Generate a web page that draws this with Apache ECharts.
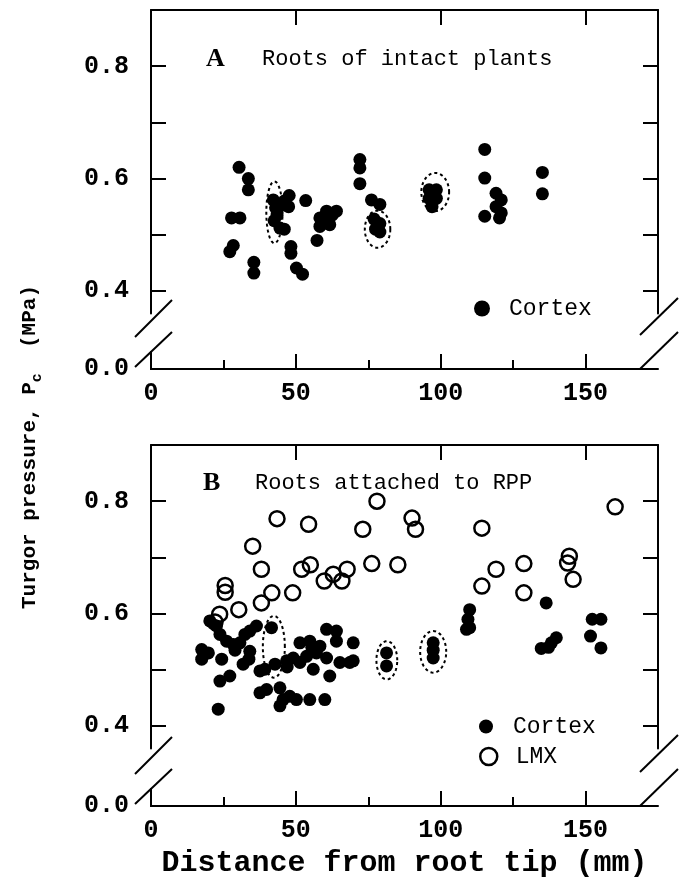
<!DOCTYPE html>
<html>
<head>
<meta charset="utf-8">
<script src="https://cdn.jsdelivr.net/npm/echarts@6/dist/echarts.min.js"></script>
<style>html,body{margin:0;padding:0;background:#fff}#c{width:681px;height:885px}</style>
</head>
<body>
<div id="c"></div>
<script>
// ---------------- data ----------------
const xMajorTicks = [50, 100, 150];
const xMinorTicks = [25, 75, 125];
const xTickLabels = [0, 50, 100, 150];
const yTicks = [0.4, 0.5, 0.6, 0.7, 0.8];
const yTickLabels = [0.4, 0.6, 0.8];
const yBreakLabels = [0.0];

// Panel A: roots of intact plants, cortex [distance mm, Pc MPa]
const cortexA = [
  [27.8,0.530],[30.7,0.530],[30.4,0.620],[33.6,0.600],[33.6,0.580],[28.4,0.481],[27.2,0.470],
  [35.5,0.451],[35.5,0.432],
  [42.2,0.562],[43.0,0.548],[44.5,0.552],[42.5,0.525],[44.5,0.512],[43.5,0.535],[46.0,0.560],
  [47.7,0.570],[47.5,0.550],[46.0,0.510],
  [48.3,0.479],[48.3,0.467],[50.2,0.441],[52.3,0.430],[53.4,0.561],
  [60.6,0.542],[64.0,0.542],[58.3,0.530],[61.1,0.528],[58.3,0.515],[61.7,0.518],[57.3,0.490],[62.5,0.535],
  [72.1,0.634],[72.1,0.619],[72.1,0.591],[76.1,0.562],[79.0,0.554],
  [77.0,0.528],[79.0,0.520],[77.5,0.510],[79.0,0.505],
  [96.0,0.580],[98.5,0.580],[96.0,0.565],[98.5,0.565],[97.0,0.550],
  [115.2,0.652],[115.2,0.601],[115.2,0.533],
  [119.1,0.574],[120.9,0.562],[119.1,0.550],[120.9,0.539],[120.3,0.530],
  [135.1,0.611],[135.1,0.573]
];
// dashed outlines in panel A: [centre mm, centre MPa, half-width mm, half-height MPa]
const outlinesA = [[42.6,0.540,2.8,0.055],[78.2,0.510,4.4,0.033],[98.1,0.576,4.8,0.034]];

// Panel B: roots attached to RPP
const cortexB = [
  [17.5,0.536],[17.5,0.519],[19.8,0.530],[20.3,0.587],[22.6,0.578],[23.8,0.563],[24.4,0.519],
  [26.1,0.551],[28.4,0.545],[30.7,0.548],[32.4,0.563],[34.1,0.569],[36.4,0.578],[34.1,0.533],
  [33.8,0.519],[31.8,0.510],[27.2,0.489],[23.8,0.480],[23.2,0.430],[37.6,0.498],[37.6,0.459],[29.0,0.535],
  [41.6,0.575],[39.3,0.501],[42.8,0.510],[39.9,0.465],[44.5,0.468],[45.6,0.447],[47.9,0.453],
  [50.2,0.447],[54.8,0.447],[60.0,0.447],[44.5,0.436],[51.4,0.548],[54.8,0.551],[58.3,0.542],
  [60.6,0.572],[64.0,0.569],[64.0,0.551],[69.8,0.548],[49.1,0.521],[53.7,0.524],[57.1,0.530],
  [60.6,0.521],[65.2,0.513],[68.6,0.513],[69.8,0.516],[56.0,0.501],[61.7,0.489],[51.4,0.513],
  [46.8,0.516],[55.5,0.540],[47.0,0.505],
  [81.3,0.530],[81.3,0.507],[97.4,0.548],[97.4,0.535],[97.4,0.521],
  [110.0,0.607],[109.4,0.590],[108.9,0.572],[110.0,0.575],
  [136.4,0.619],[139.9,0.557],[138.2,0.548],[134.7,0.538],[137.2,0.540],
  [152.3,0.590],[155.3,0.590],[151.7,0.560],[155.3,0.539]
];
const lmxB = [
  [78.0,0.800],[160.2,0.790],[43.5,0.769],[54.4,0.759],[73.1,0.750],[90.1,0.770],[91.3,0.750],
  [114.2,0.752],[35.1,0.720],[38.1,0.679],[52.0,0.679],[55.0,0.687],[59.8,0.658],[62.9,0.670],
  [65.9,0.658],[67.7,0.679],[76.2,0.689],[85.2,0.687],[25.6,0.650],[25.6,0.638],[41.7,0.637],
  [48.9,0.637],[38.1,0.619],[30.3,0.607],[23.7,0.599],[22.1,0.585],
  [114.2,0.649],[119.1,0.679],[128.7,0.689],[128.7,0.637],[144.4,0.702],[143.8,0.690],[145.7,0.661]
];
const outlinesB = [[42.4,0.541,3.8,0.055],[81.4,0.517,3.6,0.034],[97.4,0.532,4.5,0.037]];

// ---------------- layout ----------------
const L = 151, W = 507, X_MAX = 175;
const Y_TOP = 0.9, Y_CUT = 0.36;
const panels = [
  {top: 10, mainH: 303.5, lowTop: 352, base: 369},
  {top: 445, mainH: 303.5, lowTop: 789, base: 806}
];
const MONO = '"Liberation Mono", "DejaVu Sans Mono", monospace';
const SERIF = '"Liberation Serif", "DejaVu Serif", serif';
const INK = '#000';

const grid = [], xAxis = [], yAxis = [];
panels.forEach((p) => {
  grid.push({left: L, width: W, top: p.top, height: p.mainH});
  grid.push({left: L, width: W, top: p.lowTop, height: p.base - p.lowTop});
});
const lineStyle = {color: INK, width: 2};
const tickFont = {fontFamily: MONO, fontWeight: 'bold', fontSize: 25, color: INK};
panels.forEach((p, i) => {
  const gMain = 2 * i, gLow = 2 * i + 1;
  xAxis.push({gridIndex: gMain, type: 'value', position: 'top', min: 0, max: X_MAX,
    axisLine: {show: true, lineStyle}, splitLine: {show: false},
    axisTick: {show: true, inside: true, length: 15, customValues: xMajorTicks, lineStyle},
    axisLabel: {show: false}});
  xAxis.push(Object.assign({gridIndex: gLow, type: 'value', position: 'bottom', min: 0, max: X_MAX,
    axisLine: {show: true, lineStyle}, splitLine: {show: false},
    axisTick: {show: true, inside: true, length: 15, customValues: xMajorTicks, lineStyle},
    axisLabel: Object.assign({show: true, customValues: xTickLabels, margin: 12}, tickFont)},
    i === 1 ? {name: 'Distance from root tip (mm)', nameLocation: 'middle', nameGap: 42,
      nameTextStyle: {fontFamily: MONO, fontWeight: 'bold', fontSize: 30, color: INK}} : {}));
  xAxis.push({gridIndex: gLow, type: 'value', position: 'bottom', min: 0, max: X_MAX,
    axisLine: {show: false}, splitLine: {show: false},
    axisTick: {show: true, inside: true, length: 9, customValues: xMinorTicks, lineStyle},
    axisLabel: {show: false}});
  yAxis.push({gridIndex: gMain, type: 'value', position: 'left', min: Y_CUT, max: Y_TOP,
    axisLine: {show: true, lineStyle}, splitLine: {show: false},
    axisTick: {show: true, inside: true, length: 15, customValues: yTicks, lineStyle},
    axisLabel: Object.assign({show: true, customValues: yTickLabels, margin: 22, formatter: v => v.toFixed(1)}, tickFont)});
  yAxis.push({gridIndex: gMain, type: 'value', position: 'right', min: Y_CUT, max: Y_TOP,
    axisLine: {show: true, lineStyle}, splitLine: {show: false},
    axisTick: {show: true, inside: true, length: 15, customValues: yTicks, lineStyle},
    axisLabel: {show: false}});
  yAxis.push({gridIndex: gLow, type: 'value', position: 'left', min: 0, max: 0.03,
    axisLine: {show: true, lineStyle}, splitLine: {show: false}, axisTick: {show: false},
    axisLabel: Object.assign({show: true, customValues: yBreakLabels, margin: 22, formatter: v => v.toFixed(1)}, tickFont)});
  yAxis.push({gridIndex: gLow, type: 'value', position: 'right', min: 0, max: 0.03,
    axisLine: {show: true, lineStyle}, splitLine: {show: false}, axisTick: {show: false},
    axisLabel: {show: false}});
});

function outlineRender(params, api) {
  const cx = api.value(0), cy = api.value(1), rx = api.value(2), ry = api.value(3);
  const pts = [];
  for (let k = 0; k < 60; k++) {
    const t = k / 60 * 2 * Math.PI;
    pts.push(api.coord([cx + rx * Math.cos(t), cy + ry * Math.sin(t)]));
  }
  return {type: 'polygon', shape: {points: pts},
    style: {fill: 'none', stroke: INK, lineWidth: 2, lineDash: [3, 3]}};
}

const filled = {color: INK, opacity: 1};
const open = {color: 'rgba(255,255,255,0)', borderColor: INK, borderWidth: 2.5, opacity: 1};
const series = [
  {type: 'custom', name: 'outlineA', xAxisIndex: 0, yAxisIndex: 0, data: outlinesA,
    encode: {x: 0, y: 1}, renderItem: outlineRender, silent: true, z: 1, clip: false},
  {type: 'scatter', name: 'Cortex', xAxisIndex: 0, yAxisIndex: 0, data: cortexA,
    symbol: 'circle', symbolSize: 13, itemStyle: filled, silent: true, z: 3},
  {type: 'custom', name: 'outlineB', xAxisIndex: 3, yAxisIndex: 4, data: outlinesB,
    encode: {x: 0, y: 1}, renderItem: outlineRender, silent: true, z: 1, clip: false},
  {type: 'scatter', name: 'LMX', xAxisIndex: 3, yAxisIndex: 4, data: lmxB,
    symbol: 'circle', symbolSize: 15, itemStyle: open, silent: true, z: 2},
  {type: 'scatter', name: 'Cortex', xAxisIndex: 3, yAxisIndex: 4, data: cortexB,
    symbol: 'circle', symbolSize: 13, itemStyle: filled, silent: true, z: 3}
];

const legendText = {fontFamily: MONO, fontSize: 23, color: INK};
const legend = [
  {left: 469, top: 292, itemWidth: 44, itemHeight: 16, selectedMode: false, textStyle: legendText,
    data: [{name: 'Cortex', icon: 'circle', itemStyle: filled}]},
  {left: 474, top: 710, itemWidth: 44, itemHeight: 14, selectedMode: false, textStyle: legendText,
    data: [{name: 'Cortex', icon: 'circle', itemStyle: filled}]},
  {left: 474, top: 740, itemWidth: 44, itemHeight: 17, selectedMode: false, textStyle: legendText,
    data: [{name: 'LMX', icon: 'circle', itemStyle: open}]}
];

const letterStyle = {fontFamily: SERIF, fontWeight: 'bold', fontSize: 26, color: INK};
const headStyle = {fontFamily: MONO, fontWeight: 'normal', fontSize: 22, color: INK};
const title = [
  {left: 201, top: 41, text: 'A', textStyle: letterStyle},
  {left: 257, top: 43, text: 'Roots of intact plants', textStyle: headStyle},
  {left: 198, top: 465, text: 'B', textStyle: letterStyle},
  {left: 250, top: 467, text: 'Roots attached to RPP', textStyle: headStyle}
];

// axis-break marks (decoration, positioned from layout)
const graphic = [];
panels.forEach(p => {
  const b = p.base;
  const seg = (x1, y1, x2, y2) => ({type: 'line', silent: true,
    shape: {x1, y1, x2, y2}, style: {stroke: INK, lineWidth: 2}});
  graphic.push(seg(135, b - 32, 172, b - 69));
  graphic.push(seg(135, b - 2, 172, b - 37));
  graphic.push(seg(640, b - 34, 678, b - 71));
  graphic.push(seg(640, b, 678, b - 37));
});
graphic.push({type: 'text', silent: true, x: 30, y: 447, rotation: Math.PI / 2,
  style: {text: '{n|Turgor pressure, P}{s|c}{n|  (MPa)}', align: 'center', verticalAlign: 'middle',
    rich: {n: {fontFamily: MONO, fontWeight: 'bold', fontSize: 21, lineHeight: 30, verticalAlign: 'middle', fill: INK},
           s: {fontFamily: MONO, fontWeight: 'bold', fontSize: 15, lineHeight: 30, verticalAlign: 'bottom', fill: INK}}}});

const chart = echarts.init(document.getElementById('c'), null, {renderer: 'canvas'});
chart.setOption({animation: false, backgroundColor: '#fff', title, legend, grid, xAxis, yAxis, series, graphic});
</script>
</body>
</html>
